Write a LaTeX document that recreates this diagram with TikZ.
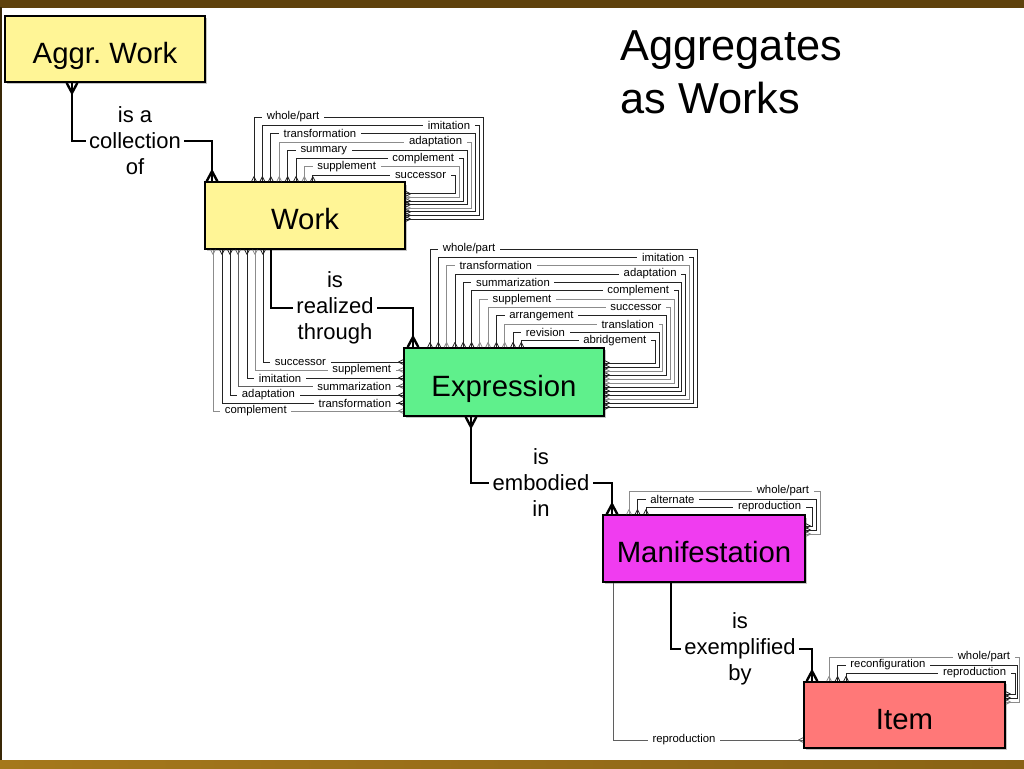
\documentclass[tikz,border=0pt]{standalone}
\usepackage{fontspec}
\setmainfont{Liberation Sans}
\usetikzlibrary{arrows.meta,shadows}

\pgfdeclarearrow{
  name = Crow,
  parameters = {\the\pgfarrowlength,\the\pgfarrowwidth},
  setup code = {
    \pgfarrowssettipend{0pt}
    \pgfarrowssetlineend{0pt}
    \pgfarrowssetbackend{-\pgfarrowlength}
    \pgfarrowssavethe\pgfarrowlength
    \pgfarrowssavethe\pgfarrowwidth
  },
  drawing code = {
    \pgfsetdash{}{0pt}
    \pgfsetroundjoin
    \pgfsetbuttcap
    \pgfpathmoveto{\pgfqpoint{0pt}{.5\pgfarrowwidth}}
    \pgfpathlineto{\pgfqpoint{-\pgfarrowlength}{0pt}}
    \pgfpathlineto{\pgfqpoint{0pt}{-.5\pgfarrowwidth}}
    \pgfusepathqstroke
  },
  defaults = {length=7pt, width=8pt}
}

\definecolor{yel}{RGB}{255,245,150}
\definecolor{grn}{RGB}{95,240,140}
\definecolor{mag}{RGB}{240,60,240}
\definecolor{sal}{RGB}{255,120,120}
\definecolor{dk}{RGB}{35,35,35}
\definecolor{lt}{RGB}{140,140,140}
\definecolor{md}{RGB}{95,95,95}
\definecolor{goldA}{RGB}{95,66,12}
\definecolor{goldB}{RGB}{165,120,28}
\def\westname{west}

\tikzset{
  sc/.tip={Crow[length=3.5pt,width=3.5pt]},
  bc/.tip={Crow[length=7.5pt,width=8pt]},
}

\begin{document}
\begin{tikzpicture}[x=0.75pt,y=-0.75pt,
  box/.style={draw=black, line width=1.4pt, inner sep=0pt,
    font=\fontsize{22}{26}\selectfont, text height=21pt, text depth=0pt,
    drop shadow={shadow xshift=1.8pt,shadow yshift=-1.8pt,opacity=0.45}},
  mainl/.style={line width=1.8pt, black},
  thinl/.style={line width=0.6pt, sc-sc},
  rel/.style={font=\fontsize{16.5}{19.5}\selectfont, align=center, fill=white, inner xsep=2.5pt, inner ysep=1pt},
  lbl/.style={font=\fontsize{8.5}{10}\selectfont, fill=white, inner xsep=3.5pt, inner ysep=0pt},
]
\useasboundingbox (0,0) rectangle (1024,768);
\fill[white] (0,0) rectangle (1024,768);

% frame
\shade[left color=goldA, middle color=goldB, right color=goldA] (0,0) rectangle (1024,7);
\shade[left color=goldB, middle color=goldA, right color=goldB!60!goldA] (0,760) rectangle (1024,768);
\fill[goldA!60!black] (0,7) rectangle (1.5,760);

% title
\node[font=\fontsize{32.5}{40}\selectfont, align=left, anchor=north west, inner sep=0pt] (title) at (620,30) {Aggregates\\as Works};

% boxes
\node[box, fill=yel, minimum width=150pt, minimum height=49.5pt] (aggr) at (105,49) {Aggr.\ Work};
\node[box, fill=yel, minimum width=150pt, minimum height=50pt] (work) at (305,215.5) {Work};
\node[box, fill=grn, minimum width=150pt, minimum height=51pt] (expr) at (504,382) {Expression};
\node[box, fill=mag, minimum width=151.5pt, minimum height=50pt] (manif) at (704,548.5) {Manifestation};
\node[box, fill=sal, minimum width=150.75pt, minimum height=49.5pt] (item) at (904.5,715) {Item};

% Work self relationships
\foreach \i/\lab/\anc/\col in {0/{whole/part}/west/dk, 1/imitation/east/dk, 2/transformation/west/dk, 3/adaptation/east/lt, 4/summary/west/dk, 5/complement/east/dk, 6/supplement/west/lt, 7/successor/east/dk}{
  \pgfmathsetmacro\lx{254+8.4*\i}
  \pgfmathsetmacro\ly{117+8.3*\i}
  \pgfmathsetmacro\rx{483-4*\i}
  \pgfmathsetmacro\ry{219-3.6*\i}
  \draw[thinl,\col] (\lx,0 |- work.north) -- (\lx,\ly) -- (\rx,\ly) -- (\rx,\ry) -- (work.east |- 0,\ry);
  \ifx\anc\westname \pgfmathsetmacro\tx{\lx+8}\else\pgfmathsetmacro\tx{\rx-4}\fi
  \node[lbl,anchor=\anc] (wt\i) at (\tx,\ly) {\lab};
}

% Expression self relationships
\foreach \i/\lab/\anc/\col in {0/{whole/part}/west/dk, 1/imitation/east/dk, 2/transformation/west/lt, 3/adaptation/east/dk, 4/summarization/west/dk, 5/complement/east/dk, 6/supplement/west/lt, 7/successor/east/lt, 8/arrangement/west/dk, 9/translation/east/lt, 10/revision/west/dk, 11/abridgement/east/dk}{
  \pgfmathsetmacro\lx{430+8.3*\i}
  \pgfmathsetmacro\ly{249+8.35*\i}
  \pgfmathsetmacro\rx{697-3.8*\i}
  \pgfmathsetmacro\ry{407-4*\i}
  \draw[thinl,\col] (\lx,0 |- expr.north) -- (\lx,\ly) -- (\rx,\ly) -- (\rx,\ry) -- (expr.east |- 0,\ry);
  \ifx\anc\westname \pgfmathsetmacro\tx{\lx+8}\else\pgfmathsetmacro\tx{\rx-4}\fi
  \node[lbl,anchor=\anc] (et\i) at (\tx,\ly) {\lab};
}

% Manifestation self relationships
\foreach \i/\lab/\anc/\col in {0/{whole/part}/east/lt, 1/alternate/west/dk, 2/reproduction/east/dk}{
  \pgfmathsetmacro\lx{629+8.5*\i}
  \pgfmathsetmacro\ly{491+8*\i}
  \pgfmathsetmacro\rx{820-4*\i}
  \pgfmathsetmacro\ry{534-4*\i}
  \draw[thinl,\col] (\lx,0 |- manif.north) -- (\lx,\ly) -- (\rx,\ly) -- (\rx,\ry) -- (manif.east |- 0,\ry);
  \ifx\anc\westname \pgfmathsetmacro\tx{\lx+8}\else\pgfmathsetmacro\tx{\rx-6}\fi
  \node[lbl,anchor=\anc] (mt\i) at (\tx,\ly) {\lab};
}

% Item self relationships
\foreach \i/\lab/\anc/\col in {0/{whole/part}/east/lt, 1/reconfiguration/west/dk, 2/reproduction/east/dk}{
  \pgfmathsetmacro\lx{829+8.5*\i}
  \pgfmathsetmacro\ly{657+8*\i}
  \pgfmathsetmacro\rx{1019-2*\i}
  \pgfmathsetmacro\ry{702-4*\i}
  \draw[thinl,\col] (\lx,0 |- item.north) -- (\lx,\ly) -- (\rx,\ly) -- (\rx,\ry) -- (item.east |- 0,\ry);
  \ifx\anc\westname \pgfmathsetmacro\tx{\lx+8}\else\pgfmathsetmacro\tx{\rx-4}\fi
  \node[lbl,anchor=\anc] (it\i) at (\tx,\ly) {\lab};
}

% Work -- Expression relationships
\foreach \x/\y/\lab/\anc/\col [count=\k] in {263/362/successor/west/dk, 255/370/supplement/east/lt, 247/378/imitation/west/dk, 238/386/summarization/east/md, 230/395/adaptation/west/dk, 222/403/transformation/east/dk, 213/411/complement/west/lt}{
  \draw[thinl,\col] (\x,0 |- work.south) -- (\x,\y) -- (expr.west |- 0,\y);
  \ifx\anc\westname \pgfmathsetmacro\tx{\x+7}\else\pgfmathsetmacro\tx{396}\fi
  \node[lbl,anchor=\anc] (we\k) at (\tx,\y) {\lab};
}

% Manifestation -- Item reproduction
\draw[line width=0.6pt, md, -sc] (613,0 |- manif.south) -- (613,740) -- (item.west |- 0,740);
\node[lbl] (mi) at (684,740) {reproduction};

% main relationships
\draw[mainl, bc-bc] (72,0 |- aggr.south) -- (72,141) -- (212,141) -- (212,0 |- work.north);
\node[rel] (r1) at (135,141) {is a\\collection\\of};

\draw[mainl, -bc] (271,0 |- work.south) -- (271,308) -- (413,308) -- (413,0 |- expr.north);
\node[rel] (r2) at (335,308) {is\\realized\\through};

\draw[mainl, bc-bc] (471,0 |- expr.south) -- (471,483) -- (612,483) -- (612,0 |- manif.north);
\node[rel] (r3) at (541,483) {is\\embodied\\in};

\draw[mainl, -bc] (671,0 |- manif.south) -- (671,649) -- (812,649) -- (812,0 |- item.north);
\node[rel] (r4) at (740,649) {is\\exemplified\\by};
\end{tikzpicture}
\end{document}
